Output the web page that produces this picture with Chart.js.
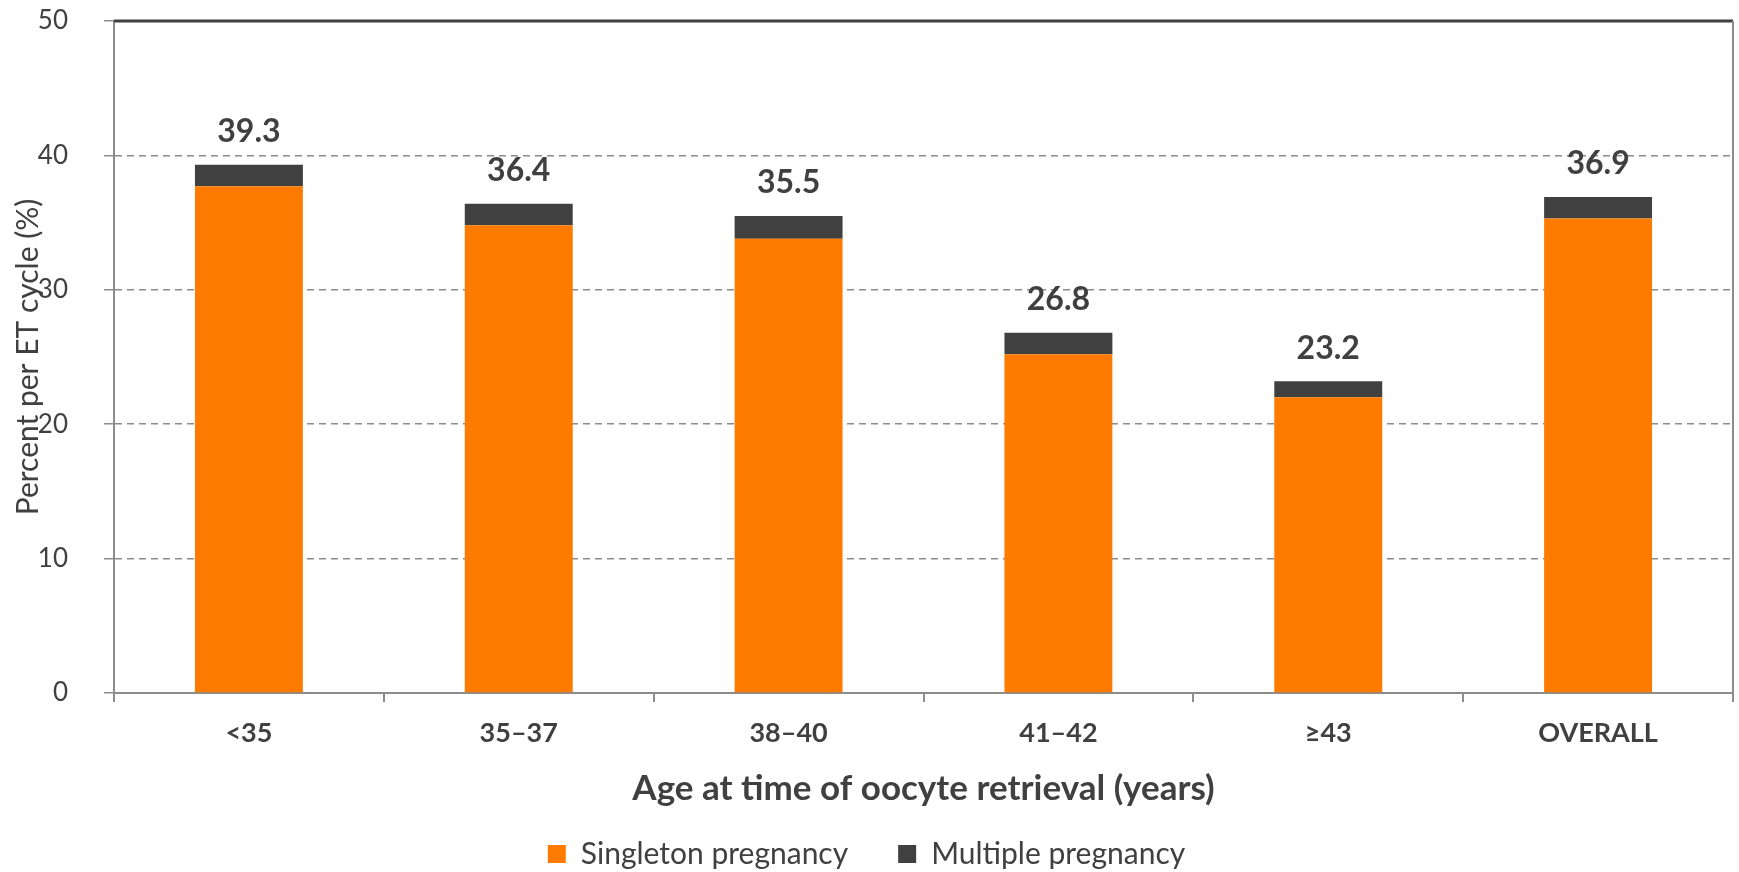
<!DOCTYPE html>
<html>
<head>
<meta charset="utf-8">
<script src="https://cdn.jsdelivr.net/npm/chart.js@4.4.1/dist/chart.umd.min.js"></script>
<style>
  html, body { margin: 0; padding: 0; background: #fff; }
  #wrap { width: 1739px; height: 872px; }
</style>
</head>
<body>
<div id="wrap"><canvas id="pregChart" width="1739" height="872"></canvas></div>
<script>
const ageGroups = ['<35', '35–37', '38–40', '41–42', '≥43', 'OVERALL'];
const singleton = [37.7, 34.8, 33.8, 25.2, 22.0, 35.3];
const multiple = [1.6, 1.6, 1.7, 1.6, 1.2, 1.6];
const totalLabels = ['39.3', '36.4', '35.5', '26.8', '23.2', '36.9'];
const yTicks = [0, 10, 20, 30, 40, 50];

const textColor = '#404040';
const axisGray = '#8c8c8c';

// totals above each stack + top/right frame lines
const framePlugin = {
  id: 'frameAndTotals',
  afterDatasetsDraw(chart) {
    const { ctx, chartArea, scales } = chart;
    ctx.save();
    ctx.strokeStyle = textColor;
    ctx.lineWidth = 3;
    ctx.beginPath();
    ctx.moveTo(chartArea.left, chartArea.top);
    ctx.lineTo(chartArea.right, chartArea.top);
    ctx.stroke();
    ctx.strokeStyle = axisGray;
    ctx.lineWidth = 2;
    ctx.beginPath();
    ctx.moveTo(chartArea.right, chartArea.top);
    ctx.lineTo(chartArea.right, chartArea.bottom);
    ctx.stroke();

    ctx.fillStyle = textColor;
    ctx.font = 'bold 32px Lato';
    ctx.textAlign = 'center';
    ctx.textBaseline = 'middle';
    ageGroups.forEach((g, i) => {
      const x = scales.x.getPixelForValue(i);
      const y = scales.y.getPixelForValue(singleton[i] + multiple[i]);
      ctx.fillText(totalLabels[i], x, y - 33);
    });
    ctx.restore();
  }
};

// wide gaps between legend items but a short legend box
const legendHeight = {
  id: 'legendHeight',
  beforeInit(chart) {
    const fit = chart.legend.fit;
    chart.legend.fit = function () {
      fit.bind(chart.legend)();
      this.height = 83;
    };
  }
};

const ctx = document.getElementById('pregChart').getContext('2d');
const pregChart = new Chart(ctx, {
  type: 'bar',
  data: {
    labels: ageGroups,
    datasets: [
      {
        label: 'Singleton pregnancy',
        data: singleton,
        backgroundColor: '#ff7b00',
        borderWidth: 0,
        barPercentage: 0.4,
        categoryPercentage: 1.0,
      },
      {
        label: 'Multiple pregnancy',
        data: multiple,
        backgroundColor: '#404040',
        borderWidth: 0,
        barPercentage: 0.4,
        categoryPercentage: 1.0,
      },
    ],
  },
  options: {
    responsive: false,
    animation: false,
    layout: { padding: { top: 21, right: 6, left: 0, bottom: 0 } },
    plugins: {
      tooltip: { enabled: false },
      legend: {
        position: 'bottom',
        labels: {
          color: textColor,
          font: { family: 'Lato', size: 30 },
          boxWidth: 18,
          boxHeight: 18,
          padding: 50,
        },
      },
    },
    scales: {
      x: {
        stacked: true,
        afterFit(scale) { scale.height = 96; },
        grid: {
          display: true,
          drawOnChartArea: false,
          offset: true,
          tickLength: 9,
          color: axisGray,
          lineWidth: 2,
        },
        border: { color: axisGray, width: 2 },
        ticks: {
          color: textColor,
          font: { family: 'Lato', size: 27, weight: 'bold' },
          padding: 15,
        },
        title: {
          display: true,
          text: 'Age at time of oocyte retrieval (years)',
          color: textColor,
          font: { family: 'Lato', size: 35, weight: 'bold' },
          padding: { top: 0, bottom: -21 },
        },
      },
      y: {
        stacked: true,
        min: 0,
        max: 50,
        afterFit(scale) {
          scale.width = 114;
          scale.paddingTop = 0;
          scale.paddingBottom = 0;
        },
        afterBuildTicks(scale) { scale.ticks = yTicks.map(v => ({ value: v })); },
        grid: {
          color: axisGray,
          lineWidth: 1.5,
          tickLength: 10,
        },
        border: { color: axisGray, width: 2, dash: [7, 5] },
        ticks: {
          color: textColor,
          font: { family: 'Lato', size: 26 },
          padding: 36,
        },
        title: {
          display: true,
          text: 'Percent per ET cycle (%)',
          color: textColor,
          font: { family: 'Lato', size: 30 },
          padding: { top: 10, bottom: 0 },
        },
      },
    },
  },
  plugins: [framePlugin, legendHeight],
});
</script>
</body>
</html>
